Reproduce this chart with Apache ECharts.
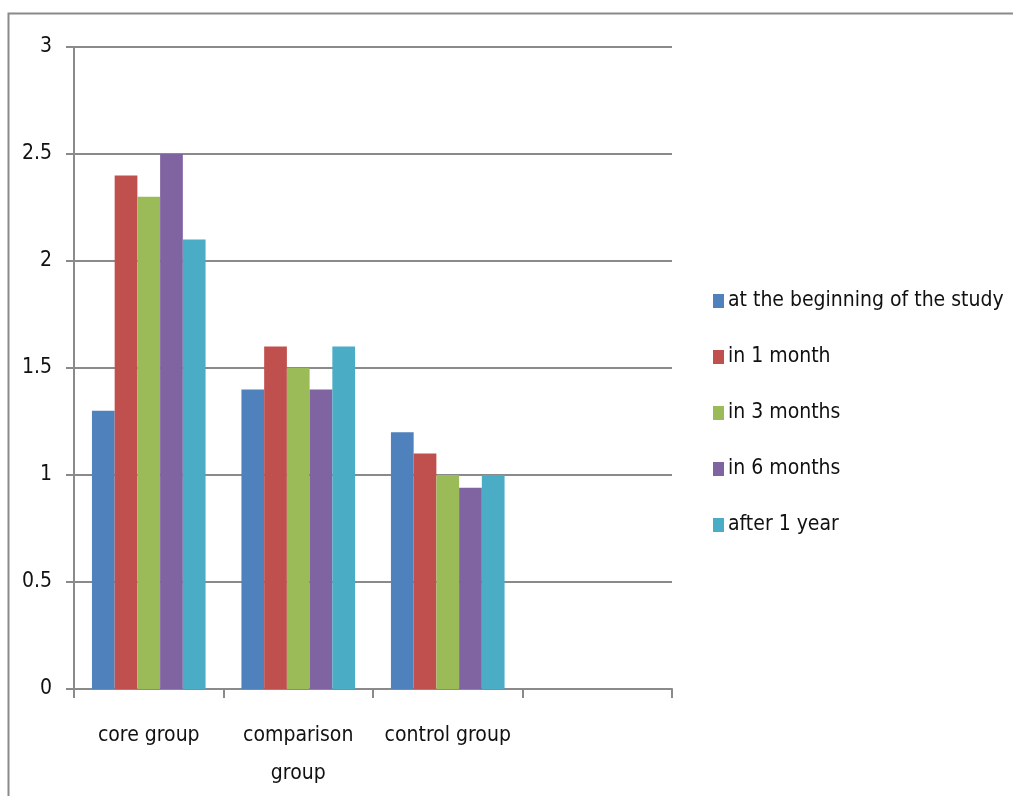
<!DOCTYPE html>
<html lang="en">
<head>
    <meta charset="UTF-8">
    <title>bar chart</title>
    <style>
        html, body { margin: 0; padding: 0; background: #fff; }
    </style>
</head>
<body>
<div id="main" style="width: 1013px;height:796px;"></div>
<script src="https://cdn.jsdelivr.net/npm/echarts@6/dist/echarts.min.js"></script>
<script>
    // categories and series values
    var groups = ['core group', 'comparison\ngroup', 'control group', ''];
    var seriesNames = ['at the beginning of the study', 'in 1 month', 'in 3 months', 'in 6 months', 'after 1 year'];
    var atStart = [1.3, 1.4, 1.2, null];
    var month1 = [2.4, 1.6, 1.1, null];
    var months3 = [2.3, 1.5, 1.0, null];
    var months6 = [2.5, 1.4, 0.94, null];
    var year1 = [2.1, 1.6, 1.0, null];
    var yTicks = [0, 0.5, 1, 1.5, 2, 2.5, 3];

    var colors = ['#4F81BD', '#C0504D', '#9BBB59', '#8064A2', '#4BACC6'];
    var allValues = [atStart, month1, months3, months6, year1];
    var font = 'DejaVu Sans Condensed';

    var series = [];
    for (var i = 0; i < seriesNames.length; i++) {
        series.push({
            name: seriesNames[i],
            type: 'bar',
            barGap: 0,
            barCategoryGap: '24%',
            itemStyle: { color: colors[i] },
            data: allValues[i]
        });
    }

    var myChart = echarts.init(document.getElementById('main'));
    var option = {
        animation: false,
        color: colors,
        // outer frame
        graphic: [{
            type: 'rect',
            shape: { x: 8.5, y: 13.5, width: 1100, height: 900 },
            style: { fill: 'none', stroke: '#8a8a8a', lineWidth: 2 }
        }],
        grid: { left: 74, right: 341, top: 47, bottom: 107 },
        legend: {
            orient: 'vertical',
            left: 708,
            top: 285,
            itemGap: 34,
            itemWidth: 11,
            itemHeight: 14,
            icon: 'rect',
            textStyle: { fontFamily: font, fontSize: 21, color: '#111', padding: [0, 0, 0, -1], height: 22, lineHeight: 22 },
            data: seriesNames
        },
        xAxis: {
            type: 'category',
            data: groups,
            axisLine: { lineStyle: { color: '#8a8a8a', width: 2 } },
            axisTick: { show: true, length: 9, lineStyle: { color: '#8a8a8a', width: 2 } },
            axisLabel: {
                fontFamily: font, fontSize: 21, color: '#111',
                margin: 28, lineHeight: 38, interval: 0
            }
        },
        yAxis: {
            type: 'value',
            min: yTicks[0],
            max: yTicks[yTicks.length - 1],
            interval: 0.5,
            axisLine: { show: true, lineStyle: { color: '#8a8a8a', width: 2 } },
            axisTick: { show: true, length: 8, lineStyle: { color: '#8a8a8a', width: 2 } },
            axisLabel: { fontFamily: font, fontSize: 21, color: '#111', margin: 22 },
            splitLine: { lineStyle: { color: '#8a8a8a', width: 2 } }
        },
        series: series
    };
    myChart.setOption(option);
</script>
</body>
</html>
